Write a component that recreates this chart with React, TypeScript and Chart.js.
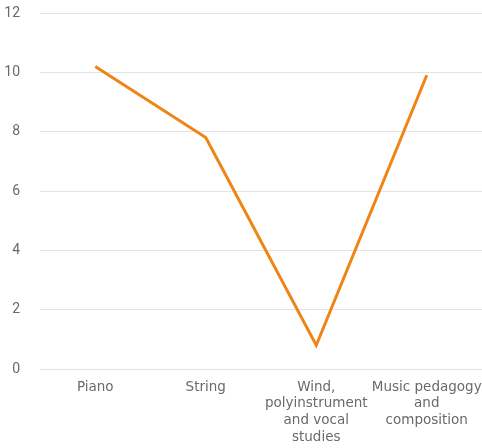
import React, { useEffect, useRef } from "react";
import { Chart, registerables } from "chart.js";

Chart.register(...registerables);

const categories: (string | string[])[] = [
  "Piano",
  "String",
  ["Wind,", "polyinstrument", "and vocal", "studies"],
  ["Music pedagogy", "and", "composition"],
];
const values: number[] = [10.2, 7.8, 0.8, 9.9];
const yTicks = { min: 0, max: 12, step: 2 };

export default function App() {
  const ref = useRef<HTMLCanvasElement | null>(null);
  useEffect(() => {
    document.body.style.margin = "0";
    const ctx = ref.current!;
    const chart = new Chart(ctx, {
      type: "line",
      data: {
        labels: categories,
        datasets: [
          {
            data: values,
            borderColor: "#ef8417",
            backgroundColor: "#ef8417",
            borderWidth: 3,
            pointRadius: 0,
            tension: 0,
          },
        ],
      },
      options: {
        responsive: false,
        animation: false,
        layout: { padding: { left: 0, top: 13, right: 0, bottom: 0 } },
        plugins: { legend: { display: false }, tooltip: { enabled: false } },
        scales: {
          x: {
            offset: true,
            grid: { display: false, drawTicks: false },
            border: { display: false },
            ticks: {
              color: "#6a6a6a",
              font: { family: "DejaVu Sans", size: 13.5, lineHeight: 1.23 },
              padding: 10,
              maxRotation: 0,
              autoSkip: false,
            },
            afterFit: (s: any) => {
              s.height = 79;
              s.paddingLeft = 0;
              s.paddingRight = 0;
            },
          },
          y: {
            min: yTicks.min,
            max: yTicks.max,
            grid: { color: "#e3e3e3", drawTicks: false },
            border: { display: false },
            ticks: {
              stepSize: yTicks.step,
              color: "#6a6a6a",
              font: { family: "Roboto", size: 14 },
              padding: 20,
            },
            afterFit: (s: any) => {
              s.width = 40;
              s.paddingTop = 0;
              s.paddingBottom = 0;
            },
          },
        },
      },
    });
    return () => chart.destroy();
  }, []);
  return <canvas ref={ref} width={482} height={448} style={{ display: "block" }} />;
}
